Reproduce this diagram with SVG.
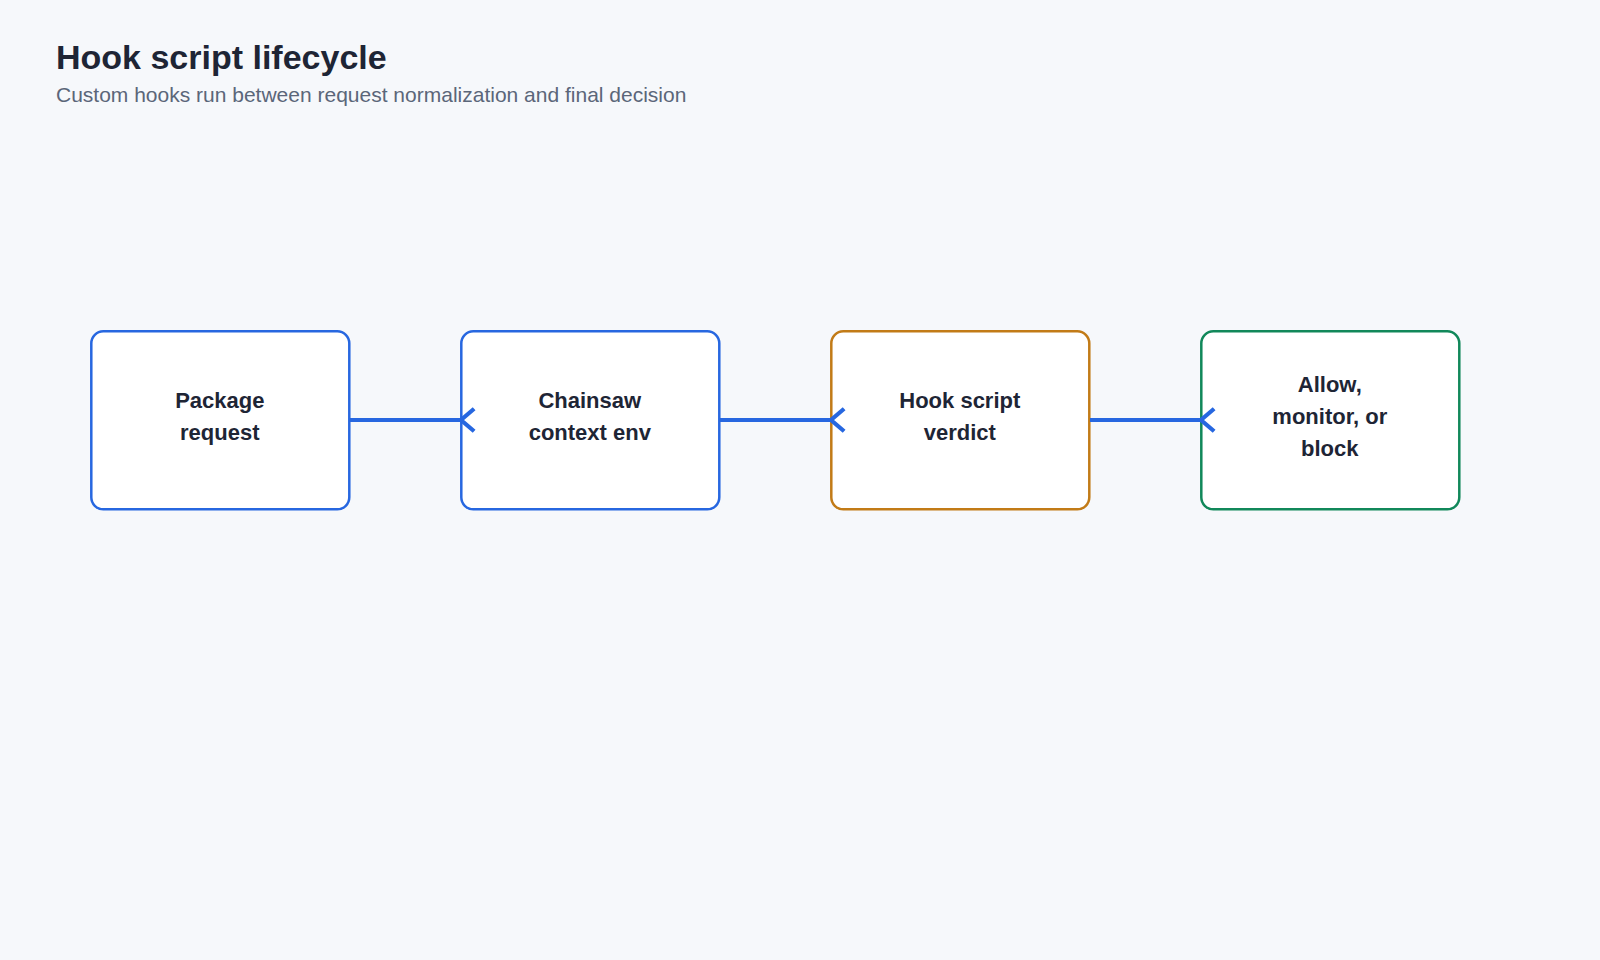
<svg xmlns="http://www.w3.org/2000/svg" width="1600" height="960" viewBox="0 0 1600 960">
  <style>
    .title { font-family: "Liberation Sans", Arial, sans-serif; font-weight: bold; font-size: 34px; fill: #1e2535; }
    .subtitle { font-family: "Liberation Sans", Arial, sans-serif; font-size: 21px; fill: #5b6679; }
    .box { fill: #ffffff; stroke-width: 2.5; }
    .blue { stroke: #2767e0; }
    .orange { stroke: #c27b17; }
    .green { stroke: #11885a; }
    .label { font-family: "Liberation Sans", Arial, sans-serif; font-weight: bold; font-size: 22px; fill: #1e2535; text-anchor: middle; }
    .edge { stroke: #2767e0; stroke-width: 4; fill: none; }
  </style>
  <defs>
    <marker id="chev" markerUnits="userSpaceOnUse" markerWidth="30" markerHeight="30" refX="0" refY="0" viewBox="-4 -16 24 32" orient="auto" overflow="visible">
      <path d="M14,-12 L0,0 L14,12" fill="none" stroke="#2767e0" stroke-width="4.5"/>
    </marker>
  </defs>
  <rect x="0" y="0" width="1600" height="960" fill="#f6f8fb"/>
  <text class="title" x="56" y="69">Hook script lifecycle</text>
  <text class="subtitle" x="56" y="102">Custom hooks run between request normalization and final decision</text>

  <g id="node-package-request">
    <rect class="box blue" x="91.3" y="331.3" width="258" height="178" rx="12"/>
    <text class="label" x="219.8" y="408">Package</text>
    <text class="label" x="219.8" y="440">request</text>
  </g>
  <g id="node-chainsaw-context">
    <rect class="box blue" x="461.3" y="331.3" width="258" height="178" rx="12"/>
    <text class="label" x="589.8" y="408">Chainsaw</text>
    <text class="label" x="589.8" y="440">context env</text>
  </g>
  <g id="node-hook-verdict">
    <rect class="box orange" x="831.3" y="331.3" width="258" height="178" rx="12"/>
    <text class="label" x="959.8" y="408">Hook script</text>
    <text class="label" x="959.8" y="440">verdict</text>
  </g>
  <g id="node-decision">
    <rect class="box green" x="1201.3" y="331.3" width="258" height="178" rx="12"/>
    <text class="label" x="1329.8" y="392">Allow,</text>
    <text class="label" x="1329.8" y="424">monitor, or</text>
    <text class="label" x="1329.8" y="456">block</text>
  </g>

  <g id="connectors">
    <line class="edge" x1="350" y1="420" x2="461" y2="420" marker-end="url(#chev)"/>
    <line class="edge" x1="720" y1="420" x2="831" y2="420" marker-end="url(#chev)"/>
    <line class="edge" x1="1090" y1="420" x2="1201" y2="420" marker-end="url(#chev)"/>
  </g>
</svg>
